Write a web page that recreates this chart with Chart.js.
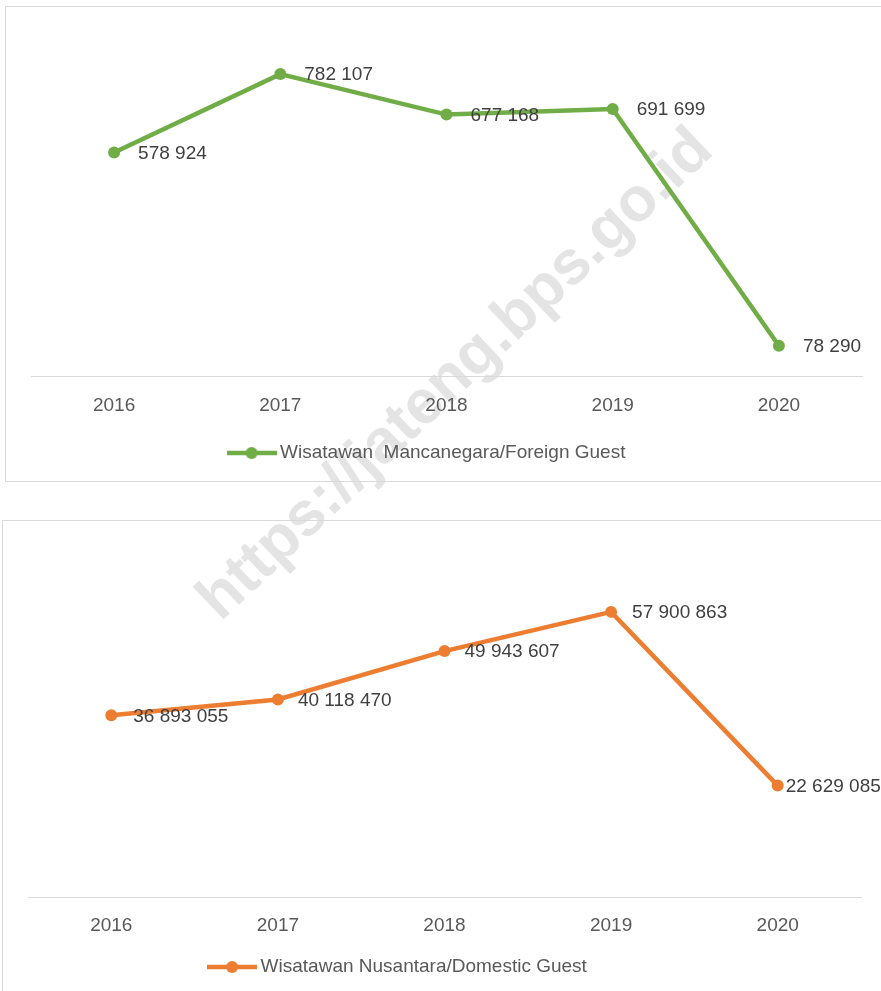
<!DOCTYPE html>
<html lang="id">
<head>
    <meta charset="UTF-8">
    <title>Wisatawan Mancanegara dan Nusantara 2016-2020</title>
    <script src="https://cdn.jsdelivr.net/npm/chart.js@4.4.0/dist/chart.umd.min.js"></script>
    <style>
        body {
            margin: 0;
            background: #ffffff;
            font-family: "Liberation Sans", Arial, sans-serif;
            width: 881px;
            height: 991px;
            overflow: hidden;
            position: relative;
        }

        .box {
            position: absolute;
            border: 1px solid #d9d9d9;
            z-index: 1;
        }

        #boxTop { left: 5px; top: 6px; width: 890px; height: 474px; }
        #boxBottom { left: 2px; top: 520px; width: 890px; height: 500px; }

        .box canvas { position: absolute; left: 0; top: 0; }

        .watermark {
            position: absolute;
            left: 453px;
            top: 372px;
            transform: translate(-50%, -50%) rotate(-43.5deg);
            font-weight: bold;
            font-size: 62px;
            color: #e4e4e4;
            white-space: nowrap;
            z-index: 0;
        }
    </style>
</head>
<body>
    <div class="watermark">https://jateng.bps.go.id</div>

    <div class="box" id="boxTop">
        <canvas id="foreignChart" width="874" height="474"></canvas>
    </div>
    <div class="box" id="boxBottom">
        <canvas id="domesticChart" width="878" height="470"></canvas>
    </div>

    <script>
        const years = ['2016', '2017', '2018', '2019', '2020'];
        const foreignGuests = [578924, 782107, 677168, 691699, 78290];
        const domesticGuests = [36893055, 40118470, 49943607, 57900863, 22629085];

        Chart.defaults.font.family = '"Liberation Sans", Arial, sans-serif';

        function spaced(n) {
            return String(n).replace(/\B(?=(\d{3})+(?!\d))/g, ' ');
        }

        // line + dot legend marker
        function legendMarker(color) {
            const c = document.createElement('canvas');
            c.width = 50;
            c.height = 14;
            const g = c.getContext('2d');
            g.strokeStyle = color;
            g.lineWidth = 4.5;
            g.beginPath();
            g.moveTo(0, 7);
            g.lineTo(50, 7);
            g.stroke();
            g.fillStyle = color;
            g.beginPath();
            g.arc(25, 7, 6, 0, Math.PI * 2);
            g.fill();
            return c;
        }

        // value labels to the right of each point
        const pointLabels = {
            id: 'pointLabels',
            afterLayout(chart, args, opts) {
                if (chart.legend && opts.legendShift) {
                    chart.legend.left += opts.legendShift;
                    chart.legend.right += opts.legendShift;
                }
            },
            afterDatasetsDraw(chart, args, opts) {
                const ctx = chart.ctx;
                const ds = chart.data.datasets[0];
                const meta = chart.getDatasetMeta(0);
                ctx.save();
                ctx.font = '19px "Liberation Sans", Arial, sans-serif';
                ctx.fillStyle = '#404040';
                ctx.textAlign = 'left';
                ctx.textBaseline = 'middle';
                meta.data.forEach((pt, i) => {
                    ctx.fillText(spaced(ds.data[i]), pt.x + opts.offsets[i], pt.y + 1);
                });
                ctx.restore();
            }
        };

        function makeChart(id, label, data, color, yMax, pad, tickPad, legendPad, offsets, legendShift) {
            new Chart(document.getElementById(id), {
                type: 'line',
                data: {
                    labels: years,
                    datasets: [{
                        label: label,
                        data: data,
                        borderColor: color,
                        backgroundColor: color,
                        borderWidth: 4.5,
                        pointRadius: 6,
                        pointBorderWidth: 0,
                        pointBackgroundColor: color,
                        tension: 0
                    }]
                },
                options: {
                    responsive: false,
                    animation: false,
                    layout: { padding: pad },
                    scales: {
                        x: {
                            offset: true,
                            grid: { display: false, drawTicks: false },
                            border: { color: '#d9d9d9', width: 1 },
                            ticks: { padding: tickPad, color: '#595959', font: { size: 19 } }
                        },
                        y: { display: false, min: 0, max: yMax }
                    },
                    plugins: {
                        legend: {
                            position: 'bottom',
                            labels: {
                                usePointStyle: true,
                                pointStyle: legendMarker(color),
                                pointStyleWidth: 38,
                                padding: legendPad,
                                color: '#595959',
                                font: { size: 19 }
                            }
                        },
                        tooltip: { enabled: false },
                        pointLabels: { offsets: offsets, legendShift: legendShift }
                    }
                },
                plugins: [pointLabels]
            });
        }

        makeChart('foreignChart', 'Wisatawan  Mancanegara/Foreign Guest', foreignGuests, '#70ad47', 900000,
            { left: 25, right: 18, top: 21.6, bottom: 8.5 }, 18.6, 7.5, [24, 24, 24, 24, 24], -17.5);

        makeChart('domesticChart', 'Wisatawan Nusantara/Domestic Guest', domesticGuests, '#ed7d31', 70000000,
            { left: 25, right: 20, top: 31.3, bottom: 4.5 }, 17.6, 2.5, [22, 20, 20, 21, 8], -44.5);
    </script>
</body>
</html>
